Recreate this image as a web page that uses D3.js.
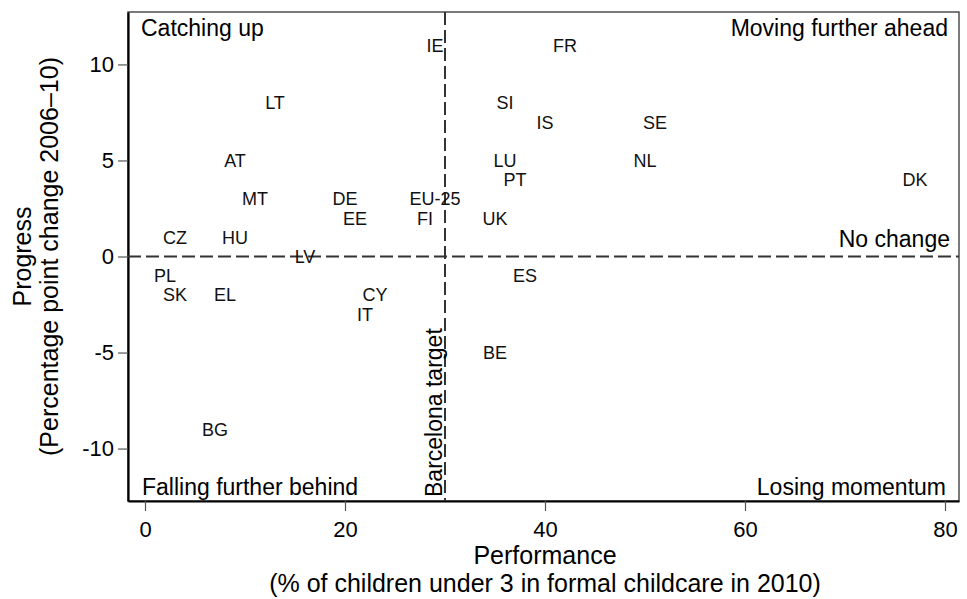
<!DOCTYPE html>
<html>
<head>
<meta charset="utf-8">
<script src="https://cdn.jsdelivr.net/npm/d3@7"></script>
<style>
  html, body { margin: 0; padding: 0; background: #fff; }
  svg { display: block; font-family: "Liberation Sans", Arial, sans-serif; }
</style>
</head>
<body>
<svg id="chart" width="967" height="599"></svg>
<script>
const countries   = ["IE","LT","AT","MT","DE","EE","EU-25","FI","CZ","HU","LV","FR","SI","IS","SE","LU","NL","PT","DK","UK","PL","SK","EL","CY","IT","BG","ES","BE"];
const performance = [29, 13, 9, 11, 20, 21, 29, 28, 3, 9, 16, 42, 36, 40, 51, 36, 50, 37, 77, 35, 2, 3, 8, 23, 22, 7, 38, 35];
const progress    = [11, 8, 5, 3, 3, 2, 3, 2, 1, 1, 0, 11, 8, 7, 7, 5, 5, 4, 4, 2, -1, -2, -2, -2, -3, -9, -1, -5];
const xTicks = [0, 20, 40, 60, 80];
const yTicks = [-10, -5, 0, 5, 10];
const barcelonaTarget = 30;
const noChange = 0;
const xTitle = ["Performance", "(% of children under 3 in formal childcare in 2010)"];
const yTitle = ["Progress", "(Percentage point change 2006\u201310)"];

const svg = d3.select("#chart");
const L = 128, R = 959, T = 12, B = 501;

const x = d3.scaleLinear().domain([-1.7, 81.4]).range([L, R]);
const y = d3.scaleLinear().domain([-12.73, 12.73]).range([B, T]);
const fmt = d => String(d);

// frame
svg.append("rect").attr("x", L).attr("y", T).attr("width", R - L).attr("height", B - T)
  .attr("fill", "none").attr("stroke", "#333").attr("stroke-width", 1.3);

// axes
const xAxis = svg.append("g").attr("transform", `translate(0,${B})`)
  .call(d3.axisBottom(x).tickValues(xTicks).tickSize(10).tickSizeOuter(0).tickPadding(10).tickFormat(fmt));
const yAxis = svg.append("g").attr("transform", `translate(${L},0)`)
  .call(d3.axisLeft(y).tickValues(yTicks).tickSize(10).tickSizeOuter(0).tickPadding(4).tickFormat(fmt));
[xAxis, yAxis].forEach(g => {
  g.select(".domain").attr("stroke", "#000").attr("stroke-width", 2.2);
  g.selectAll(".tick line").attr("stroke", "#555").attr("stroke-width", 1.2);
  g.selectAll(".tick text").attr("font-size", 22).attr("fill", "#000")
    .attr("font-family", "'Liberation Sans', Arial, sans-serif");
});

// reference lines
svg.append("line").attr("x1", L).attr("x2", R).attr("y1", y(noChange)).attr("y2", y(noChange))
  .attr("stroke", "#333").attr("stroke-width", 2).attr("stroke-dasharray", "13,5");
svg.append("line").attr("x1", x(barcelonaTarget)).attr("x2", x(barcelonaTarget)).attr("y1", T).attr("y2", B)
  .attr("stroke", "#333").attr("stroke-width", 2).attr("stroke-dasharray", "13,5");

// country labels
const data = countries.map((c, i) => ({ c, px: performance[i], py: progress[i] }));
svg.append("g").selectAll("text").data(data).join("text")
  .attr("x", d => x(d.px)).attr("y", d => y(d.py)).attr("dy", "0.36em")
  .attr("text-anchor", "middle").attr("font-size", 18).attr("fill", "#111")
  .text(d => d.c);

// quadrant labels
const q = svg.append("g").attr("font-size", 23).attr("fill", "#000");
q.append("text").attr("x", L + 13).attr("y", 36).text("Catching up");
q.append("text").attr("x", R - 11).attr("y", 36).attr("text-anchor", "end").text("Moving further ahead");
q.append("text").attr("x", R - 9).attr("y", y(noChange) - 10).attr("text-anchor", "end").text("No change");
q.append("text").attr("x", L + 14).attr("y", B - 6).text("Falling further behind");
q.append("text").attr("x", R - 13).attr("y", B - 6).attr("text-anchor", "end").text("Losing momentum");
q.append("text").attr("transform", `translate(${x(barcelonaTarget) - 3},${B - 4}) rotate(-90)`).text("Barcelona target");

// axis titles
const cx = (x(0) + x(80)) / 2;
svg.append("text").attr("x", cx).attr("y", 564).attr("text-anchor", "middle").attr("font-size", 25).text(xTitle[0]);
svg.append("text").attr("x", cx).attr("y", 592).attr("text-anchor", "middle").attr("font-size", 25).text(xTitle[1]);
const cy = (T + B) / 2;
svg.append("text").attr("transform", `translate(31,${cy}) rotate(-90)`).attr("text-anchor", "middle").attr("font-size", 25).text(yTitle[0]);
svg.append("text").attr("transform", `translate(58,${cy}) rotate(-90)`).attr("text-anchor", "middle").attr("font-size", 25).text(yTitle[1]);
</script>
</body>
</html>
